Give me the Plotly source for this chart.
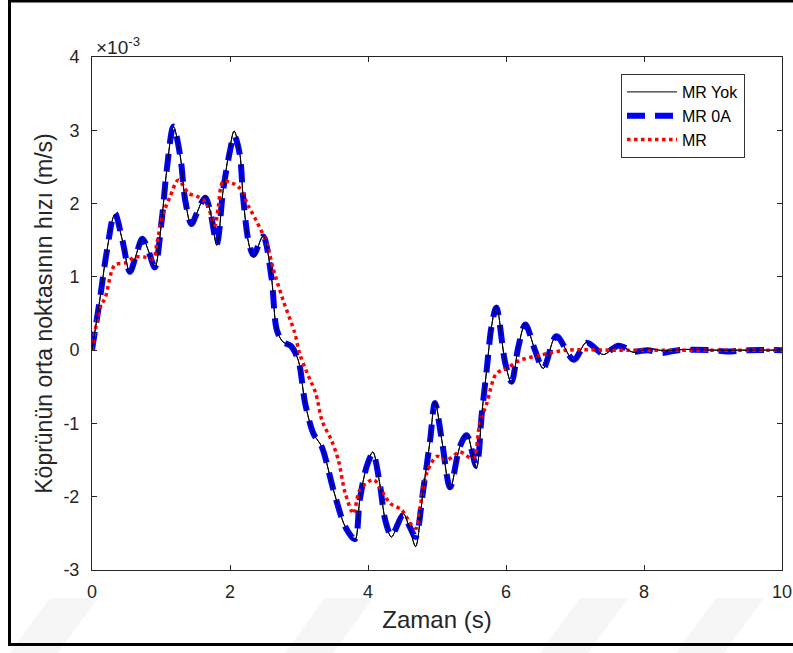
import plotly.graph_objects as go

# ---- data (velocity in units of 1e-3 m/s) ----
t_yok = [0.00, 0.05, 0.12, 0.21, 0.33, 0.44, 0.55, 0.64, 0.73, 0.82, 0.91, 1.01, 1.08, 1.18,
         1.28, 1.35, 1.44, 1.52, 1.64, 1.71, 1.81, 1.90, 2.00, 2.06, 2.14, 2.19, 2.27, 2.34,
         2.48, 2.60, 2.68, 2.77, 2.88, 2.99, 3.09, 3.21, 3.33, 3.50, 3.67, 3.81, 3.88, 3.98,
         4.07, 4.17, 4.25, 4.34, 4.51, 4.61, 4.69, 4.80, 4.90, 4.97, 5.07, 5.19, 5.33, 5.43,
         5.57, 5.65, 5.72, 5.79, 5.86, 5.99, 6.08, 6.18, 6.28, 6.42, 6.54, 6.73, 6.98, 7.17,
         7.41, 7.63, 7.85, 8.07, 8.30, 8.60, 9.00, 9.50, 10.00]
v_yok = [0.00, 0.30, 0.73, 1.32, 1.85, 1.50, 1.05, 1.30, 1.54, 1.35, 1.12, 1.77, 2.43, 3.05,
         2.64, 2.05, 1.70, 1.87, 2.11, 1.91, 1.43, 2.18, 2.77, 2.99, 2.70, 2.09, 1.46, 1.27,
         1.56, 1.00, 0.27, 0.11, 0.06, -0.14, -0.73, -1.14, -1.32, -1.91, -2.41, -2.59, -2.05, -1.59,
         -1.39, -1.82, -2.32, -2.55, -2.23, -2.46, -2.68, -1.91, -1.23, -0.70, -1.23, -1.89, -1.32, -1.14,
         -1.61, -0.86, -0.27, 0.32, 0.61, -0.18, -0.45, 0.05, 0.36, 0.00, -0.25, 0.20, -0.14, 0.11,
         -0.06, 0.07, -0.03, 0.02, -0.01, 0.01, 0.00, 0.00, 0.00]

t_0a = [0.00, 0.05, 0.12, 0.21, 0.33, 0.44, 0.55, 0.64, 0.73, 0.82, 0.91, 1.01, 1.08, 1.18,
        1.28, 1.35, 1.44, 1.52, 1.64, 1.71, 1.81, 1.90, 2.00, 2.06, 2.14, 2.19, 2.27, 2.34,
        2.48, 2.60, 2.68, 2.77, 2.88, 2.99, 3.09, 3.21, 3.33, 3.50, 3.67, 3.81, 3.88, 3.98,
        4.07, 4.17, 4.25, 4.34, 4.51, 4.61, 4.69, 4.80, 4.90, 4.97, 5.07, 5.19, 5.33, 5.43,
        5.57, 5.65, 5.72, 5.79, 5.86, 5.99, 6.08, 6.18, 6.28, 6.42, 6.54, 6.73, 6.98, 7.17,
        7.41, 7.63, 7.85, 8.05, 8.25, 8.50, 9.00, 9.20, 9.50, 10.00]
v_0a = [0.00, 0.30, 0.73, 1.32, 1.87, 1.50, 1.07, 1.30, 1.52, 1.35, 1.13, 1.77, 2.43, 3.05,
        2.64, 2.05, 1.72, 1.87, 2.08, 1.91, 1.45, 2.18, 2.72, 2.93, 2.68, 2.09, 1.48, 1.30,
        1.55, 1.00, 0.27, 0.11, 0.06, -0.14, -0.73, -1.14, -1.32, -1.91, -2.41, -2.58, -2.05, -1.59,
        -1.41, -1.82, -2.32, -2.53, -2.25, -2.42, -2.55, -1.91, -1.23, -0.72, -1.23, -1.87, -1.32, -1.16,
        -1.58, -0.86, -0.27, 0.32, 0.58, -0.18, -0.43, 0.05, 0.35, 0.00, -0.25, 0.19, -0.13, 0.10,
        -0.05, 0.06, -0.02, 0.00, -0.04, 0.00, 0.00, -0.02, 0.00, 0.00]

t_mr = [0.00, 0.12, 0.19, 0.33, 0.48, 0.62, 0.76, 0.89, 0.94, 1.03, 1.13, 1.25, 1.40, 1.54,
        1.66, 1.78, 1.83, 1.90, 2.03, 2.14, 2.27, 2.39, 2.53, 2.63, 2.77, 2.94, 3.01, 3.14,
        3.24, 3.34, 3.47, 3.57, 3.67, 3.79, 3.88, 4.08, 4.22, 4.32, 4.49, 4.61, 4.70, 4.75,
        4.85, 5.00, 5.14, 5.33, 5.52, 5.62, 5.72, 5.86, 6.01, 6.20, 6.49, 6.88, 7.50, 8.50, 10.00]
v_mr = [0.00, 0.59, 0.71, 1.16, 1.19, 1.27, 1.27, 1.25, 1.46, 1.86, 2.09, 2.32, 2.14, 2.09,
        2.00, 1.70, 1.96, 2.30, 2.28, 2.21, 1.96, 1.75, 1.46, 1.10, 0.68, 0.23, -0.05, -0.36,
        -0.58, -0.98, -1.23, -1.50, -1.95, -2.23, -1.91, -1.77, -1.95, -2.09, -2.18, -2.36, -2.43, -2.18,
        -1.68, -1.45, -1.50, -1.39, -1.48, -1.00, -0.73, -0.32, -0.25, -0.14, -0.07, 0.00, 0.00, 0.00, 0.00]

series_names = ["MR Yok", "MR 0A", "MR"]
x_ticks = [0, 2, 4, 6, 8, 10]
y_ticks = [-3, -2, -1, 0, 1, 2, 3, 4]

W, H = 793, 653
L, R, T, B = 92, 11, 57, 83
PW, PH = W - L - R, H - T - B
FONT = "Liberation Sans, Arial, Helvetica"
TXT = "#262626"

def px2paper(x, y):
    return (x - L) / PW, (H - B - y) / PH

fig = go.Figure()
fig.add_trace(go.Scatter(x=t_yok, y=v_yok, name=series_names[0], mode="lines",
                         line=dict(color="black", width=1, shape="spline", smoothing=0.9)))
fig.add_trace(go.Scatter(x=t_0a, y=v_0a, name=series_names[1], mode="lines",
                         line=dict(color="#0000ff", width=6, dash="18px,10px", shape="spline", smoothing=0.9)))
fig.add_trace(go.Scatter(x=t_mr, y=v_mr, name=series_names[2], mode="lines",
                         line=dict(color="#ff0000", width=3.5, dash="3.5px,3.5px", shape="spline", smoothing=0.9)))
# black line re-drawn on top (visible through the blue dashes, as in the reference)
fig.add_trace(go.Scatter(x=t_yok, y=v_yok, mode="lines", showlegend=False, hoverinfo="skip",
                         line=dict(color="black", width=1, shape="spline", smoothing=0.9)))

axis_common = dict(showgrid=False, zeroline=False, showline=True, linecolor=TXT, linewidth=1,
                   mirror="allticks", ticks="inside", ticklen=5, tickcolor=TXT,
                   tickfont=dict(family=FONT, size=18, color=TXT))

fig.update_xaxes(range=[0, 10], tickvals=x_ticks, ticktext=[str(v) for v in x_ticks],
                 ticklabelstandoff=5,
                 title=dict(text="Zaman (s)", font=dict(family=FONT, size=24, color=TXT), standoff=10),
                 **axis_common)
fig.update_yaxes(range=[-3, 4], tickvals=y_ticks, ticktext=[str(v) for v in y_ticks],
                 ticklabelstandoff=8,
                 title=dict(text="Köprünün orta noktasının hızı (m/s)",
                            font=dict(family=FONT, size=23, color=TXT), standoff=4),
                 **axis_common)

shapes = []
# faint watermark stripes at the bottom
for xb in [10, 285, 540, 676]:
    pts = [(xb, 653), (xb + 48, 653), (xb + 88, 598), (xb + 40, 598)]
    path = "M " + " L ".join(f"{px2paper(x, y)[0]:.5f},{px2paper(x, y)[1]:.5f}" for x, y in pts) + " Z"
    shapes.append(dict(type="path", xref="paper", yref="paper", path=path,
                       fillcolor="#f6f6f6", line=dict(width=0), layer="below"))
# figure frame
x0, y0 = px2paper(9.5, 1)
x1, y1 = px2paper(805, 644.5)
shapes.append(dict(type="rect", xref="paper", yref="paper", x0=x0, y0=y1, x1=x1, y1=y0,
                   line=dict(color="black", width=3), fillcolor="rgba(0,0,0,0)", layer="above"))

ax, ay = px2paper(94, 46)
lx, ly = px2paper(621, 74)
fig.update_layout(
    width=W, height=H, margin=dict(l=L, r=R, t=T, b=B, autoexpand=False),
    paper_bgcolor="white", plot_bgcolor="rgba(0,0,0,0)",
    font=dict(family=FONT, color=TXT),
    legend=dict(x=lx, y=ly, xanchor="left", yanchor="top",
                bgcolor="white", bordercolor="#333333", borderwidth=1,
                font=dict(family=FONT, size=16, color="black"),
                itemwidth=50, tracegroupgap=0),
    annotations=[dict(text="×10<sup>-3</sup>", xref="paper", yref="paper", x=ax, y=ay,
                      xanchor="left", yanchor="middle", showarrow=False,
                      font=dict(family=FONT, size=19, color=TXT))],
    shapes=shapes,
)

fig.write_html("out.html")
